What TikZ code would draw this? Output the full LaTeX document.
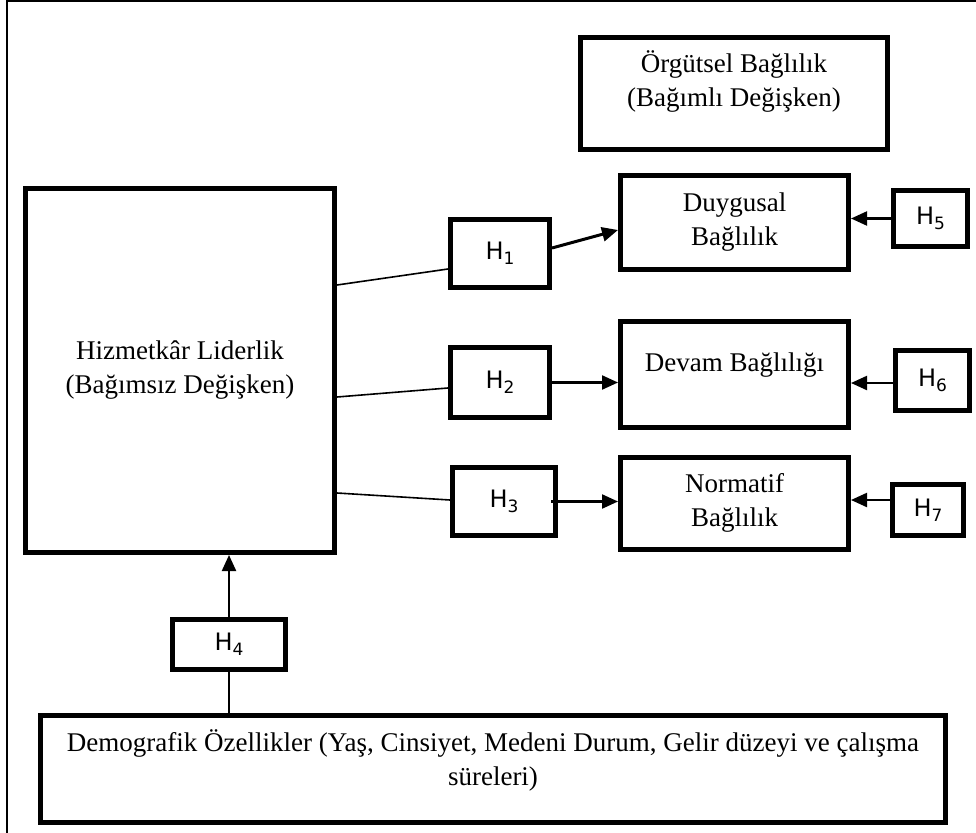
\documentclass[tikz,border=0pt]{standalone}
\usepackage{fontspec}
\setmainfont{Liberation Serif}
\newfontfamily\hfont{DejaVu Sans}
\usetikzlibrary{calc,arrows.meta}

\begin{document}
\begin{tikzpicture}[x=1pt,y=-1pt]
\tikzstyle{boxes}=[draw=black,line width=5pt,inner sep=0pt,align=center,font=\fontsize{27}{34}\selectfont]
\tikzstyle{hbox}=[draw=black,line width=5pt,inner sep=0pt,font=\hfont\fontsize{24}{28}\selectfont]
\tikzstyle{texts}=[align=center,font=\fontsize{27}{34}\selectfont]
\tikzstyle{lines1}=[line width=1.6pt,black]
\tikzstyle{lines2}=[-{Triangle[length=16pt,width=14pt]},line width=2.2pt,black]

\def\hyp#1{H\raisebox{-5pt}{\fontsize{17}{17}\selectfont #1}}
\useasboundingbox (0,0) rectangle (976,832);
\draw[line width=2pt] (7,1) rectangle (995,850);

% dependent side
\node[boxes,minimum width=307,minimum height=112] (oB) at (734,93.5) {};
\node[texts] (oT) at (734,81) {Örgütsel Bağlılık\\(Bağımlı Değişken)};
\node[boxes,minimum width=228,minimum height=94] (dG) at (734.5,222.5) {Duygusal\\Bağlılık};
\node[boxes,minimum width=228,minimum height=106] (dV) at (734.5,374.5) {};
\node[texts] (dVT) at (734.5,365) {Devam Bağlılığı};
\node[boxes,minimum width=228,minimum height=92] (nR) at (734.5,503) {Normatif\\Bağlılık};

% independent side
\node[boxes,minimum width=309,minimum height=364] (hL) at (180,370.5) {Hizmetkâr Liderlik\\(Bağımsız Değişken)};
\node[boxes,minimum width=905,minimum height=107] (dM) at (493,769) {};
\node[texts] (dMT) at (493,760) {Demografik Özellikler (Yaş, Cinsiyet, Medeni Durum, Gelir düzeyi ve çalışma\\süreleri)};

% hypotheses
\node[hbox,minimum width=99,minimum height=68] (h1) at (500,253.5) {\hyp{1}};
\node[hbox,minimum width=99,minimum height=70] (h2) at (500,382.5) {\hyp{2}};
\node[hbox,minimum width=103,minimum height=68] (h3) at (504,501.5) {\hyp{3}};
\node[hbox,minimum width=113,minimum height=50] (h4) at (229,644.5) {\hyp{4}};
\node[hbox,minimum width=74,minimum height=56] (h5) at (930.5,218.5) {\hyp{5}};
\node[hbox,minimum width=74,minimum height=60] (h6) at (932.5,380.5) {\hyp{6}};
\node[hbox,minimum width=71,minimum height=51] (h7) at (928,510) {\hyp{7}};

\draw[lines1] ([yshift=85.5pt]hL.east) -- ([yshift=-15.5pt]h1.west);
\draw[lines1] ([yshift=-26.5pt]hL.east) -- ([yshift=-5.5pt]h2.west);
\draw[lines1] ([yshift=-122.5pt]hL.east) -- ([yshift=1.5pt]h3.west);
\draw[lines2,line width=3pt] ([yshift=5.5pt]h1.east) -- ([yshift=-7.5pt]dG.west);
\draw[lines2] (h2.east) -- (h2.east -| dV.west);
\draw[lines2] ([xshift=-7pt]h3.east) -- (h3.east -| nR.west);
\draw[lines2] (h5.west) -- (h5.west -| dG.east);
\draw[lines2] ([yshift=-2.5pt]h6.west) -- ($(h6.west -| dV.east)+(0,2.5)$);
\draw[lines2] ([yshift=10pt]h7.west) -- ($(h7.west -| nR.east)+(0,-10)$);
\draw[lines2] (h4.north) -- (h4.north |- hL.south);
\draw[lines1] (dM.north -| h4.south) -- (h4.south);
\end{tikzpicture}
\end{document}
